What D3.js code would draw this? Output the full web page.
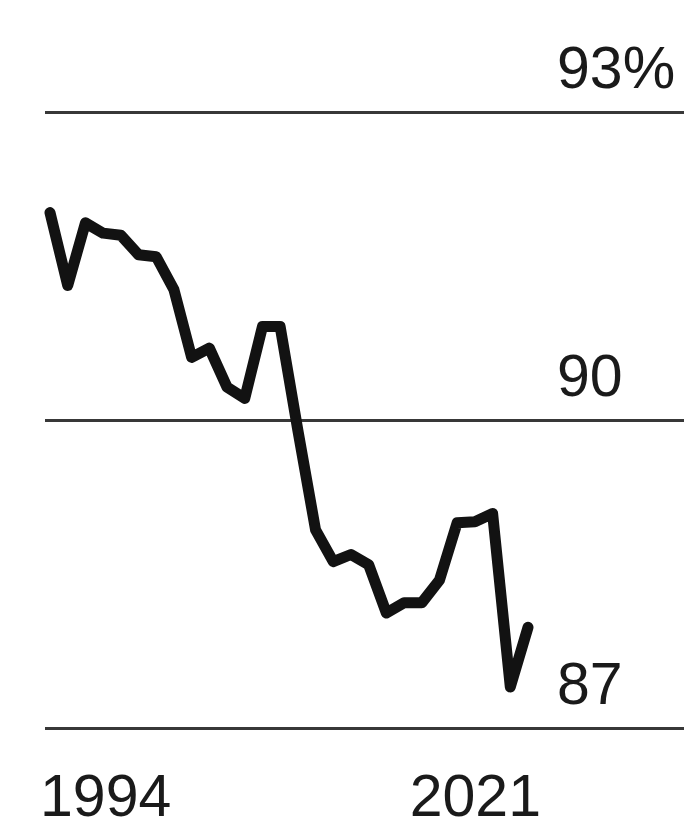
<!DOCTYPE html>
<html>
<head>
<meta charset="utf-8">
<script src="https://cdn.jsdelivr.net/npm/d3@7"></script>
<style>
  html, body { margin: 0; padding: 0; background: #fff; }
  svg { display: block; }
  text { font-family: "Liberation Sans", Arial, Helvetica, sans-serif; fill: #1a1a1a; }
</style>
</head>
<body>
<svg id="chart" width="686" height="830"></svg>
<script>
// Annual share, per cent
const years = [1994, 1995, 1996, 1997, 1998, 1999, 2000, 2001, 2002, 2003,
               2004, 2005, 2006, 2007, 2008, 2009, 2010, 2011, 2012, 2013,
               2014, 2015, 2016, 2017, 2018, 2019, 2020, 2021];
const shares = [92.02, 91.31, 91.92, 91.82, 91.80, 91.61, 91.59, 91.27, 90.61, 90.70,
                90.32, 90.21, 90.91, 90.91, 89.90, 88.93, 88.62, 88.69, 88.59, 88.12,
                88.22, 88.22, 88.44, 89.00, 89.01, 89.09, 87.40, 87.98];
const yTicks = [87, 90, 93];
const yTickLabels = ["87", "90", "93%"];
const xTickLabels = ["1994", "2021"];

const svg = d3.select("#chart");

const x = d3.scaleLinear().domain([1994, 2021]).range([50, 528]);
const y = d3.scaleLinear().domain([87, 93]).range([728, 112]);

// Horizontal gridlines with their labels sitting above the right end
const yAxis = d3.axisRight(y)
  .tickValues(yTicks)
  .tickSize(639)
  .tickFormat((d, i) => yTickLabels[i]);

const gy = svg.append("g")
  .attr("transform", "translate(45,0)")
  .call(yAxis);
gy.select(".domain").remove();
gy.selectAll(".tick line")
  .attr("stroke", "#383838")
  .attr("stroke-width", 3);
gy.selectAll(".tick text")
  .attr("x", 512)
  .attr("dy", -25)
  .attr("text-anchor", "start")
  .attr("font-size", 59)
  .attr("fill", "#1a1a1a");

// Line
const line = d3.line()
  .x((d, i) => x(years[i]))
  .y(d => y(d));

svg.append("path")
  .datum(shares)
  .attr("d", line)
  .attr("fill", "none")
  .attr("stroke", "#121212")
  .attr("stroke-width", 11)
  .attr("stroke-linejoin", "round")
  .attr("stroke-linecap", "round");

// First and last year labels
const xLabels = [
  { year: 1994, text: xTickLabels[0], anchor: "start", dx: -10 },
  { year: 2021, text: xTickLabels[1], anchor: "end", dx: 13 }
];
svg.append("g")
  .selectAll("text")
  .data(xLabels)
  .join("text")
  .attr("x", d => x(d.year) + d.dx)
  .attr("y", 816)
  .attr("text-anchor", d => d.anchor)
  .attr("font-size", 59)
  .text(d => d.text);
</script>
</body>
</html>
